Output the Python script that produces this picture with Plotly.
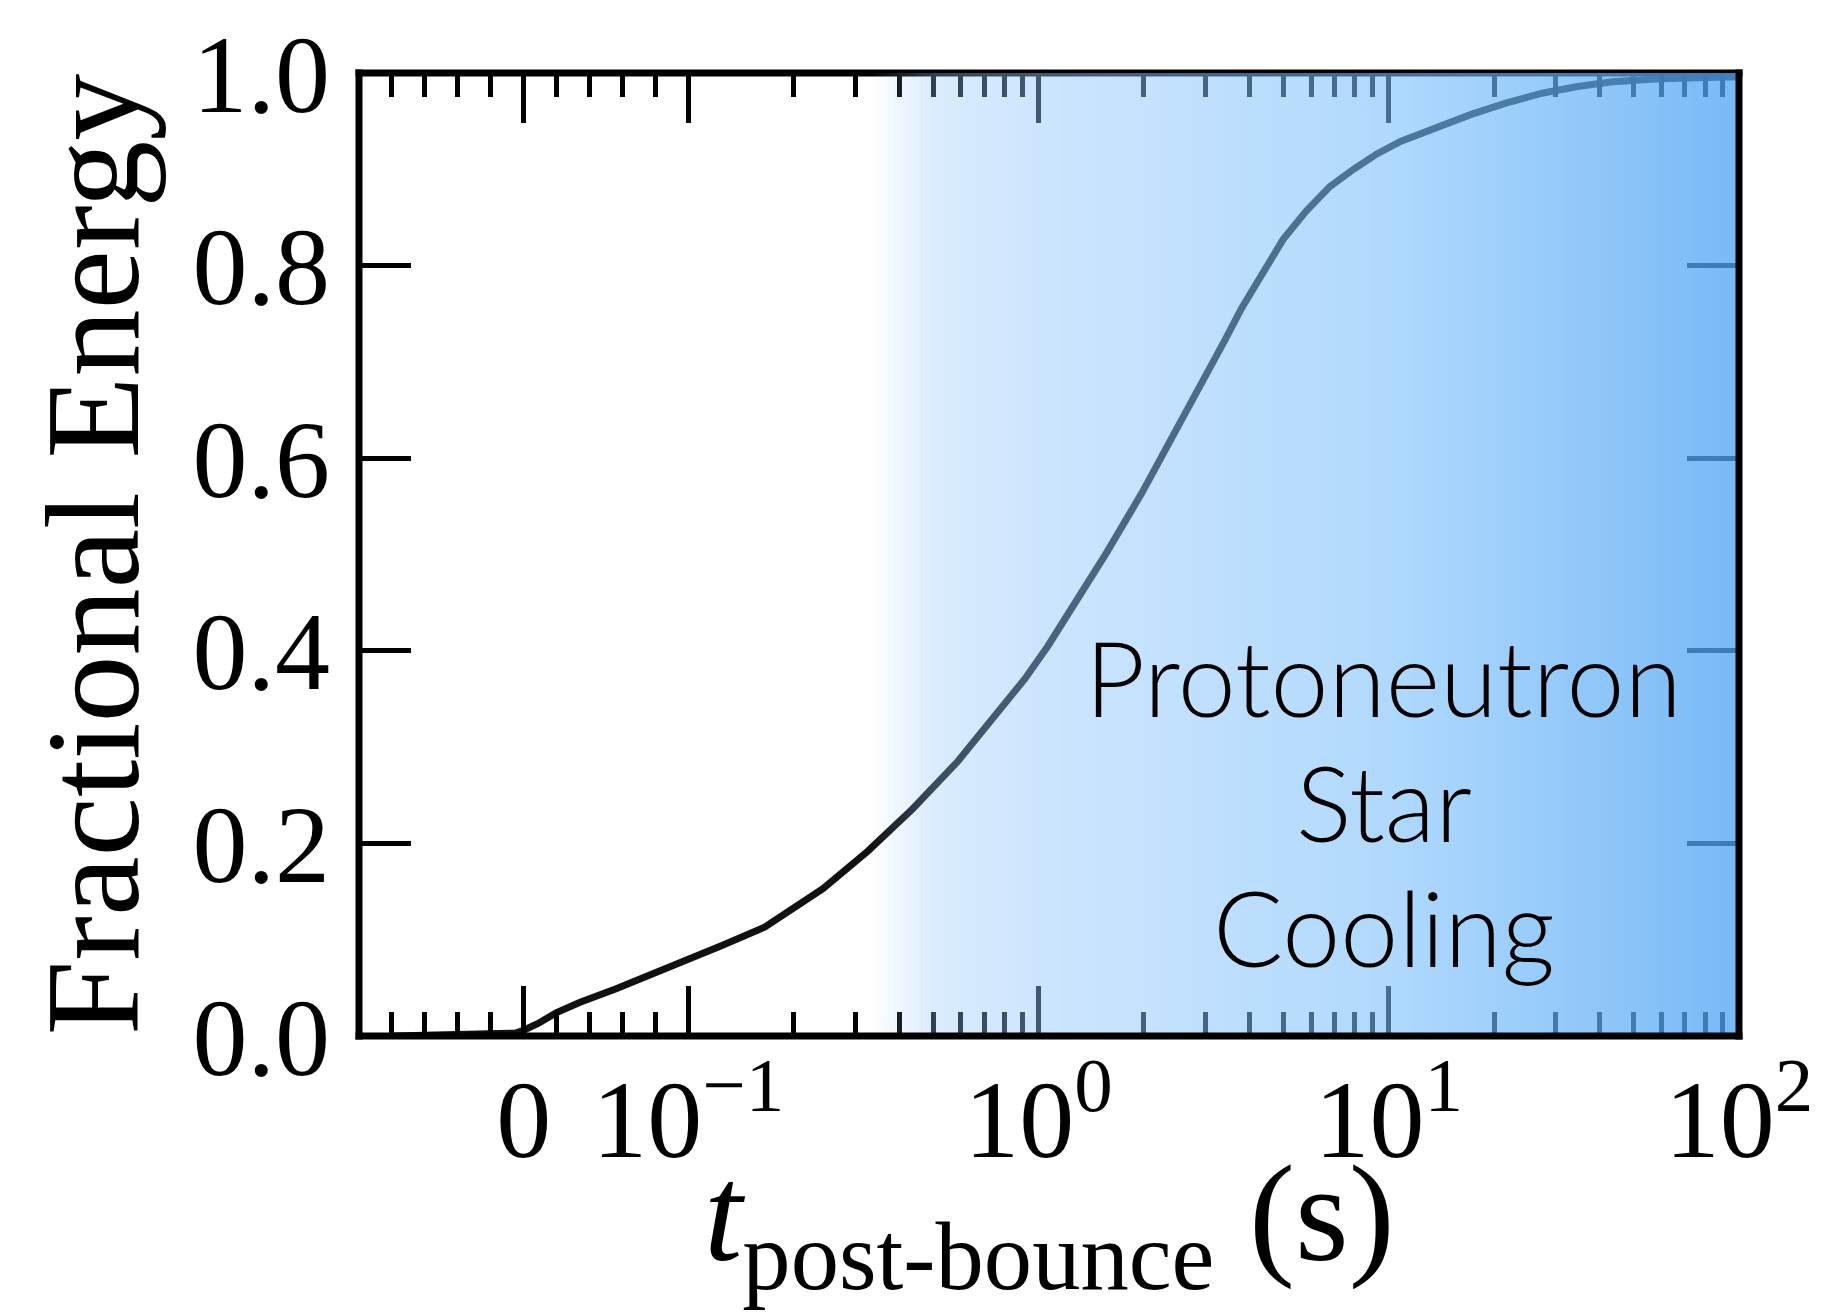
import base64
import struct
import zlib

import numpy as np
import plotly.graph_objects as go

# ---- data: cumulative fraction of emitted energy vs post-bounce time ----
t_s = [-0.08, -0.05, -0.03, -0.015, -0.005, 0.0, 0.0088, 0.0197, 0.0343, 0.0562,
       0.0781, 0.1, 0.1248, 0.1652, 0.2092, 0.2424, 0.3257, 0.4375, 0.5878, 0.733,
       0.915, 1.064, 1.341, 1.565, 1.974, 2.304, 2.904, 3.388, 3.806, 4.275,
       4.99, 5.82, 6.79, 7.93, 9.25, 10.8, 13.6, 17.2, 21.7, 27.4,
       34.6, 43.6, 59.5, 98.5]
frac_energy = [0.0, 0.0005, 0.001, 0.002, 0.003, 0.006, 0.013, 0.024, 0.035, 0.049,
               0.064, 0.079, 0.094, 0.113, 0.137, 0.153, 0.192, 0.236, 0.285, 0.327,
               0.371, 0.405, 0.462, 0.502, 0.564, 0.608, 0.675, 0.721, 0.756, 0.788,
               0.827, 0.857, 0.882, 0.900, 0.916, 0.929, 0.943, 0.957, 0.969, 0.979,
               0.986, 0.991, 0.994, 0.996]

major_ticks = [0.0, 0.1, 1.0, 10.0, 100.0]
major_labels = ["0", "10<sup>\u22121</sup>", "10<sup>0</sup>", "10<sup>1</sup>", "10<sup>2</sup>"]
minor_ticks = ([-0.08, -0.06, -0.04, -0.02, 0.02, 0.04, 0.06, 0.08]
               + [k * 0.1 for k in range(2, 10)]
               + [float(k) for k in range(2, 10)]
               + [k * 10.0 for k in range(2, 10)])
y_ticks = [0.0, 0.2, 0.4, 0.6, 0.8, 1.0]
y_labels = ["0.0", "0.2", "0.4", "0.6", "0.8", "1.0"]
x_limits = [-0.1, 100.0]

label_lines = ["Protoneutron", "Star", "Cooling"]

# ---- symmetric-log x scale (linear inside |t| <= 0.1) ----
LINTHRESH = 0.1
LINSCALE = 0.47


def symlog(t):
    t = np.asarray(t, dtype=float)
    a = np.abs(t)
    logpart = np.sign(t) * (LINSCALE + np.log10(np.where(a > 0, a, 1.0) / LINTHRESH))
    return np.where(a <= LINTHRESH, t / LINTHRESH * LINSCALE, logpart)


x_lo, x_hi = symlog(x_limits)

# ---- translucent blue gradient band (cooling phase), drawn over the axes ----
band_start = 0.33
grad_t = [0.33, 0.5, 1.0, 10.0, 30.0, 100.0]
grad_rgba = [(150, 200, 253, 0.0), (143, 198, 253, 0.33), (143, 198, 253, 0.45),
             (120, 190, 252, 0.585), (100, 178, 248, 0.68), (78, 163, 242, 0.765)]
gx0, gx1 = symlog([band_start, 100.0])


def gradient_png(n=600):
    pos = symlog(grad_t)
    cols = np.array(grad_rgba, dtype=float)
    xs = gx0 + (np.arange(n) + 0.5) / n * (gx1 - gx0)
    chans = [np.interp(xs, pos, cols[:, k]) for k in range(4)]
    chans[3] = chans[3] * 255.0
    px = np.clip(np.round(np.stack(chans, axis=1)), 0, 255).astype(np.uint8)
    raw = b"\x00" + px.tobytes()

    def chunk(tag, data):
        body = tag + data
        return struct.pack(">I", len(data)) + body + struct.pack(">I", zlib.crc32(body) & 0xFFFFFFFF)

    png = (b"\x89PNG\r\n\x1a\n"
           + chunk(b"IHDR", struct.pack(">IIBBBBB", n, 1, 8, 6, 0, 0, 0))
           + chunk(b"IDAT", zlib.compress(raw, 9))
           + chunk(b"IEND", b""))
    return "data:image/png;base64," + base64.b64encode(png).decode("ascii")


fig = go.Figure()

fig.add_trace(go.Scatter(
    x=symlog(t_s), y=frac_energy, mode="lines",
    line=dict(color="#111111", width=7),
    hoverinfo="skip", showlegend=False,
))

fig.add_layout_image(
    source=gradient_png(), xref="x", yref="y",
    x=float(gx0), y=1.0, sizex=float(gx1 - gx0), sizey=1.0,
    xanchor="left", yanchor="top", sizing="stretch", layer="above",
)

serif = "Liberation Serif"

fig.update_xaxes(
    range=[x_lo - 1e-4, x_hi + 1e-4],
    tickmode="array", tickvals=symlog(major_ticks), ticktext=major_labels,
    ticks="inside", ticklen=50, tickwidth=5, tickcolor="black",
    mirror="allticks", showline=False, showgrid=False, zeroline=False,
    tickfont=dict(family=serif, size=110, color="black"), ticklabelstandoff=10,
    minor=dict(tickmode="array", tickvals=symlog(minor_ticks).tolist(),
               ticks="inside", ticklen=24, tickwidth=4.5, tickcolor="black",
               showgrid=False),
)
fig.update_yaxes(
    range=[0, 1],
    tickmode="array", tickvals=y_ticks, ticktext=y_labels,
    ticks="inside", ticklen=52, tickwidth=5, tickcolor="black",
    mirror="allticks", showline=False, showgrid=False, zeroline=False,
    tickfont=dict(family=serif, size=110, color="black"), ticklabelstandoff=28,
)

# frame: top edge sits under the gradient, the other three edges on top
hw_x = 3.5 / 1380.0
hw_y = 3.5 / 963.0
frame = dict(color="black", width=7)
fig.add_shape(type="line", xref="paper", yref="paper", x0=-hw_x, x1=1 + hw_x, y0=1, y1=1,
              line=frame, layer="below")
fig.add_shape(type="line", xref="paper", yref="paper", x0=0, x1=0, y0=-hw_y, y1=1 + hw_y,
              line=frame, layer="above")
fig.add_shape(type="line", xref="paper", yref="paper", x0=1, x1=1, y0=-hw_y, y1=1 + hw_y,
              line=frame, layer="above")
fig.add_shape(type="line", xref="paper", yref="paper", x0=-hw_x, x1=1 + hw_x, y0=0, y1=0,
              line=frame, layer="above")

# phase label, one line per annotation for tighter leading
for line_text, ypos in zip(label_lines, [0.3728, 0.243, 0.1132]):
    fig.add_annotation(
        x=0.7427, y=ypos, xref="paper", yref="paper", text=line_text,
        showarrow=False, align="center", xanchor="center", yanchor="middle",
        font=dict(family="Lato", size=104, weight=300, color="black"),
    )

# axis titles
fig.add_annotation(
    x=-0.193, y=0.5, xref="paper", yref="paper", text="Fractional Energy",
    textangle=-90, showarrow=False, xanchor="center", yanchor="middle",
    font=dict(family=serif, size=134, color="black"),
)
fig.add_annotation(
    x=0.5, y=-0.103, xref="paper", yref="paper",
    text="<i>t</i><sub>post-bounce</sub> (s)",
    showarrow=False, xanchor="center", yanchor="top",
    font=dict(family=serif, size=138, color="black"),
)

fig.update_layout(
    width=1834, height=1315,
    margin=dict(l=359, r=95, t=73, b=279),
    paper_bgcolor="white", plot_bgcolor="white",
    showlegend=False,
)

fig.write_html("out.html")
